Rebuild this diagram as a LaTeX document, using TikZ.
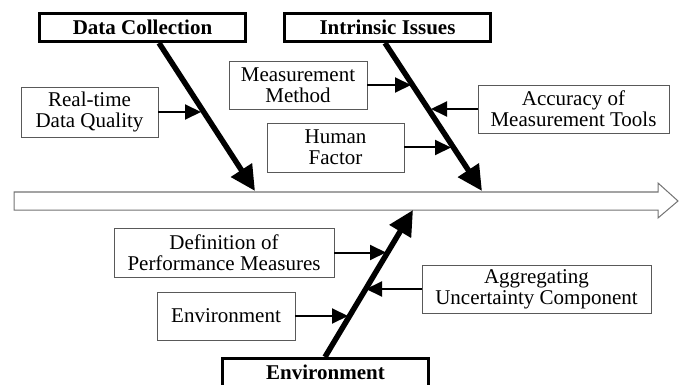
\documentclass[tikz,border=0pt]{standalone}
\usepackage{fontspec}
\setmainfont{Liberation Serif}
\usetikzlibrary{arrows.meta}
\begin{document}
\begin{tikzpicture}[x=1pt,y=-1pt,
  lbl/.style={draw=black!65, line width=0.8pt, fill=white, inner sep=0pt, align=center,
    font=\fontsize{21}{21}\selectfont},
  ttl/.style={draw=black, line width=3.3pt, fill=white, inner sep=0pt, align=center,
    minimum width=206pt, minimum height=28pt, font=\fontsize{21}{21}\selectfont\bfseries},
  bigarrow/.style={line width=5.5pt, -{Triangle[length=25pt,width=24pt]}},
  smallarrow/.style={line width=2pt, -{Triangle[length=16pt,width=15pt]}},
  spine/.style={draw=black!55, line width=1pt, fill=white}]
\useasboundingbox (0,0) rectangle (683,385);
\clip (0,0) rectangle (683,385);
% spine
\draw[spine] (14,192) -- (658,192) -- (658,183) -- (678,201) -- (658,218) -- (658,210) -- (14,210) -- cycle;
% title boxes
\node[ttl] (dc) at (142.5,27.5) {Data Collection};
\node[ttl] (ii) at (387.5,27.5) {Intrinsic Issues};
\node[ttl] (env) at (325.5,372.5) {Environment};
% cause labels
\node[lbl, minimum width=137pt, minimum height=50pt] (rt) at (89.5,112) {Real-time\\Data Quality};
\node[lbl, minimum width=138pt, minimum height=48pt] (mm) at (298,85) {Measurement\\Method};
\node[lbl, minimum width=137pt, minimum height=49pt] (hf) at (335.5,147.5) {Human\\Factor};
\node[lbl, minimum width=191pt, minimum height=48pt] (acc) at (573.5,109) {Accuracy of\\Measurement Tools};
\node[lbl, minimum width=220pt, minimum height=49pt] (def) at (224,252.5) {Definition of\\Performance Measures};
\node[lbl, minimum width=138pt, minimum height=48pt] (en2) at (226,316) {Environment};
\node[lbl, minimum width=229pt, minimum height=48pt] (agg) at (536.5,289) {Aggregating\\Uncertainty Component};
% coordinates
\coordinate (dcS) at (159,43);
\coordinate (dcT) at (255,191);
\coordinate (iiS) at (385,43);
\coordinate (iiT) at (482,191);
\coordinate (envN) at (325,357);
\coordinate (envT) at (413,210);
\coordinate (rtT) at (201,112);
\coordinate (mmT) at (411,85);
\coordinate (hfT) at (451,147.5);
\coordinate (accT) at (431,109);
\coordinate (defT) at (386,252.5);
\coordinate (en2T) at (348,316);
\coordinate (aggT) at (366,289);
% big arrows
\draw[bigarrow] (dcS) -- (dcT);
\draw[bigarrow] (iiS) -- (iiT);
\draw[bigarrow] (envN) -- (envT);
% small arrows
\draw[smallarrow] (rt.east) -- (rtT);
\draw[smallarrow] (mm.east) -- (mmT);
\draw[smallarrow] (hf.east) -- (hfT);
\draw[smallarrow] (acc.west) -- (accT);
\draw[smallarrow] (def.east) -- (defT);
\draw[smallarrow] (en2.east) -- (en2T);
\draw[smallarrow] (agg.west) -- (aggT);
\end{tikzpicture}
\end{document}
